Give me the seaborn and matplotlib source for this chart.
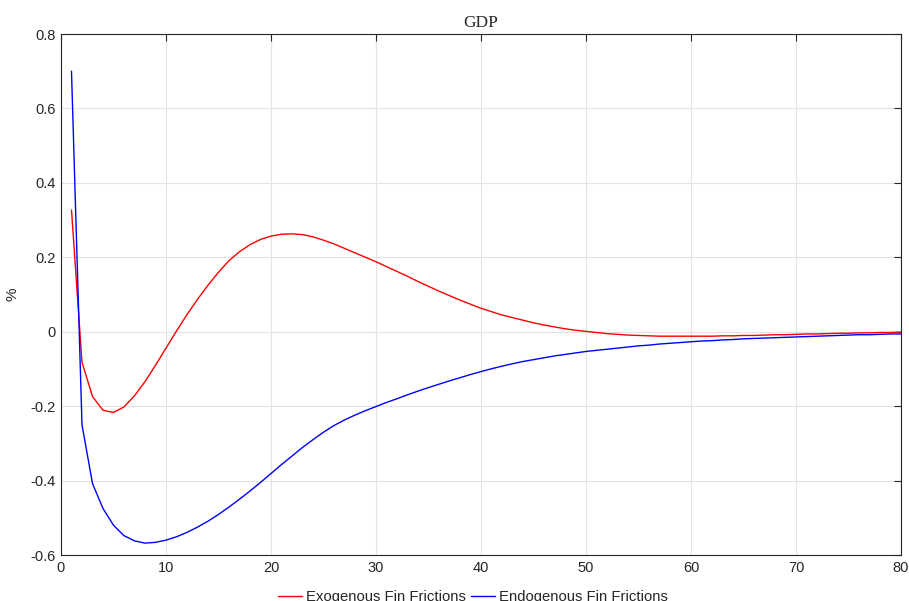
import numpy as np
import pandas as pd
import seaborn as sns
import matplotlib
matplotlib.use("Agg")
import matplotlib.pyplot as plt

# quarters after the shock
quarters = list(range(1, 81))

# GDP response (%), exogenous financial frictions
exo = [0.327, -0.082, -0.174, -0.211, -0.217, -0.202, -0.172, -0.134, -0.090, -0.044,
       0.002, 0.046, 0.087, 0.125, 0.160, 0.191, 0.215, 0.234, 0.248, 0.257,
       0.262, 0.263, 0.261, 0.255, 0.246, 0.236, 0.224, 0.212, 0.200, 0.188,
       0.175, 0.162, 0.149, 0.135, 0.122, 0.109, 0.097, 0.085, 0.074, 0.063,
       0.054, 0.045, 0.038, 0.031, 0.024, 0.018, 0.013, 0.008, 0.004, 0.001,
       -0.002, -0.005, -0.007, -0.009, -0.010, -0.011, -0.012, -0.012, -0.012, -0.012,
       -0.012, -0.012, -0.011, -0.011, -0.010, -0.010, -0.009, -0.008, -0.008, -0.007,
       -0.006, -0.006, -0.005, -0.004, -0.004, -0.003, -0.003, -0.002, -0.002, -0.001]

# GDP response (%), endogenous financial frictions
endo = [0.700, -0.250, -0.408, -0.475, -0.520, -0.548, -0.562, -0.568, -0.566, -0.560,
        -0.551, -0.539, -0.525, -0.509, -0.491, -0.471, -0.450, -0.428, -0.405, -0.381,
        -0.357, -0.334, -0.311, -0.290, -0.270, -0.252, -0.237, -0.224, -0.212, -0.201,
        -0.190, -0.180, -0.1695, -0.1595, -0.150, -0.141, -0.132, -0.1235, -0.115, -0.107,
        -0.0995, -0.0925, -0.086, -0.080, -0.075, -0.070, -0.065, -0.061, -0.057, -0.053,
        -0.050, -0.047, -0.044, -0.041, -0.038, -0.036, -0.033, -0.031, -0.029, -0.027,
        -0.025, -0.024, -0.022, -0.021, -0.019, -0.018, -0.017, -0.016, -0.015, -0.014,
        -0.013, -0.012, -0.011, -0.010, -0.009, -0.008, -0.008, -0.007, -0.006, -0.006]

labels = ["Exogenous Fin Frictions", "Endogenous Fin Frictions"]

df = pd.concat([
    pd.DataFrame({"t": quarters, "val": exo, "model": labels[0]}),
    pd.DataFrame({"t": quarters, "val": endo, "model": labels[1]}),
])

sns.set_style("white")
plt.rcParams["font.family"] = ["Liberation Sans", "DejaVu Sans"]

fig = plt.figure(figsize=(9.09, 6.01), dpi=100)
ax = fig.add_axes([0.0671, 0.0765, 0.9241, 0.8669])

sns.lineplot(data=df, x="t", y="val", hue="model", palette=["#ff0000", "#0000ff"],
             linewidth=1.0, ax=ax, legend=False)

ax.set_xlim(0, 80)
ax.set_ylim(-0.6, 0.8)
ax.set_xticks(np.arange(0, 81, 10))
ax.set_yticks(np.arange(-0.6, 0.81, 0.2))
ax.set_yticklabels(["-0.6", "-0.4", "-0.2", "0", "0.2", "0.4", "0.6", "0.8"])
ax.grid(True, color="#e3e3e3", linewidth=0.8)
ax.set_axisbelow(True)
for s in ax.spines.values():
    s.set_color("#262626")
    s.set_linewidth(0.8)
ax.tick_params(direction="in", length=5, width=0.8, colors="#262626",
               top=True, right=True, labelsize=10.5, pad=4)
ax.set_xlabel("")
ax.set_ylabel("%", fontsize=11, labelpad=8)
ax.set_title("GDP", fontsize=12.5, family="Liberation Serif", pad=5)

ax.legend(ax.get_lines(), labels, loc="center", bbox_to_anchor=(0.4905, -0.08),
          ncol=2, frameon=False, fontsize=10.7, handlelength=1.6,
          handletextpad=0.3, columnspacing=0.3)

fig.savefig("out.png", dpi=100)
